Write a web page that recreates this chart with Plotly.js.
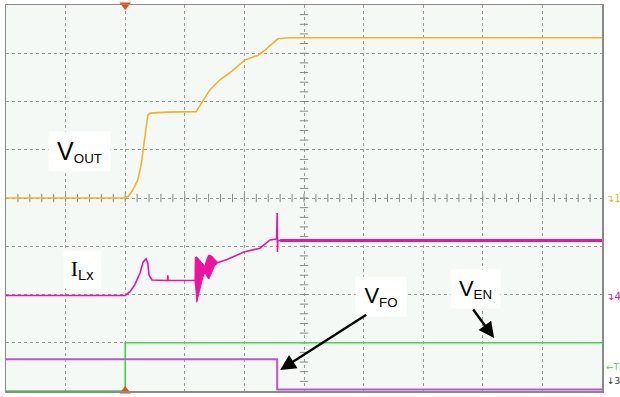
<!DOCTYPE html>
<html>
<head>
<meta charset="utf-8">
<script src="https://cdn.plot.ly/plotly-3.0.1.min.js"></script>
<style>html,body{margin:0;padding:0;background:#fff;}#chart{width:620px;height:397px;}</style>
</head>
<body>
<div id="chart"></div>
<script>
// Time axis in divisions (0..10), vertical axis in divisions (0..8)
const voutX = [0, 2.0, 2.05, 2.12, 2.21, 2.27, 2.30, 2.35, 2.38, 2.42, 2.70, 3.19, 3.26, 3.34, 3.42, 3.59, 3.79, 4.01, 4.23, 4.35, 4.47, 4.56, 4.77, 10];
const voutY = [4.0, 4.0, 4.03, 4.15, 4.37, 4.70, 4.99, 5.46, 5.72, 5.76, 5.78, 5.79, 5.93, 6.09, 6.24, 6.45, 6.63, 6.86, 6.96, 7.07, 7.20, 7.30, 7.32, 7.32];

const ilxX = [0, 2.0, 2.08, 2.16, 2.25, 2.30, 2.35, 2.38, 2.40, 2.45, 2.70, 2.71, 2.715, 2.72, 3.17,
  3.54, 3.70, 3.99, 4.26, 4.43, 4.54, 4.55, 4.555, 4.56, 10];
const ilxY = [1.98, 1.98, 2.06, 2.20, 2.45, 2.67, 2.74, 2.65, 2.40, 2.30, 2.29, 2.29, 2.40, 2.29, 2.29,
  2.66, 2.72, 2.88, 2.96, 3.13, 3.15, 3.69, 2.88, 3.12, 3.12];

// envelope of the ringing burst in I_Lx (upper edge, then lower edge back)
const burstX = [3.17, 3.175, 3.20, 3.25, 3.30, 3.34, 3.36, 3.40, 3.45, 3.50, 3.54,
  3.54, 3.50, 3.45, 3.40, 3.36, 3.34, 3.30, 3.26, 3.22, 3.20, 3.19, 3.17];
const burstY = [2.29, 2.76, 2.78, 2.70, 2.62, 2.58, 2.70, 2.82, 2.80, 2.74, 2.68,
  2.64, 2.60, 2.45, 2.32, 2.40, 2.48, 2.35, 2.15, 1.95, 1.84, 2.05, 2.29];

const vfoX = [0, 4.55, 4.55, 10];
const vfoY = [0.657, 0.657, 0.03, 0.03];

const venX = [0, 2.0, 2.0, 10];
const venY = [0.0, 0.0, 1.0, 1.0];

// graticule minor ticks on the centre lines
const tickPos = [];
for (let i = 1; i < 50; i++) tickPos.push(i * 0.2);
const vTickPos = [];
for (let i = 1; i < 40; i++) vTickPos.push(i * 0.2);

const traces = [
  {x: tickPos, y: tickPos.map(() => 4), mode: 'markers', marker: {symbol: 'line-ns', size: 6, line: {width: 1, color: '#888'}}, hoverinfo: 'skip'},
  {x: vTickPos.map(() => 5), y: vTickPos, mode: 'markers', marker: {symbol: 'line-ew', size: 6, line: {width: 1, color: '#888'}}, hoverinfo: 'skip'},
  {x: venX, y: venY, mode: 'lines', line: {color: '#3ddc3d', width: 1.6}, cliponaxis: false},
  {x: vfoX, y: vfoY, mode: 'lines', line: {color: '#bb55d8', width: 2}, cliponaxis: false},
  {x: ilxX, y: ilxY, mode: 'lines', line: {color: '#f0129e', width: 1.6}},
  {x: burstX, y: burstY, mode: 'lines', fill: 'toself', fillcolor: '#f0129e', line: {color: '#f0129e', width: 1}},
  {x: [4.6, 10], y: [3.12, 3.12], mode: 'lines', line: {color: '#f0129e', width: 3}},
  {x: voutX, y: voutY, mode: 'lines', line: {color: '#f5b324', width: 1.6}},
  {x: [2, 2], y: [8, 0], mode: 'markers', marker: {symbol: ['triangle-down', 'triangle-up'], size: 10, color: '#f24a12'}, cliponaxis: false}
];

const boxFont = {family: 'Liberation Sans, Arial, sans-serif', color: '#000'};
const layout = {
  width: 620, height: 397,
  margin: {l: 6, r: 18, t: 5, b: 6},
  paper_bgcolor: '#ffffff',
  plot_bgcolor: '#f5f9f5',
  showlegend: false,
  xaxis: {range: [0, 10], dtick: 1, showticklabels: false, ticks: '', zeroline: false,
    showgrid: true, gridcolor: '#9a9a9a', griddash: 'dot', gridwidth: 1,
    showline: true, linecolor: '#8a8a8a', linewidth: 1.5, mirror: true},
  yaxis: {range: [0, 8], dtick: 1, showticklabels: false, ticks: '', zeroline: false,
    showgrid: true, gridcolor: '#9a9a9a', griddash: 'dot', gridwidth: 1,
    showline: true, linecolor: '#8a8a8a', linewidth: 1.5, mirror: true},
  annotations: [
    {x: 1.23, y: 4.96, xref: 'x', yref: 'y', showarrow: false, bgcolor: '#ffffff', width: 59, height: 37,
      text: "V<span style='font-size:19px'><sub>OUT</sub></span>", font: Object.assign({size: 25}, boxFont)},
    {x: 1.28, y: 2.52, xref: 'x', yref: 'y', showarrow: false, bgcolor: '#ffffff', width: 35, height: 35,
      text: "<span style='font-family:Liberation Serif'>I</span><span style='font-size:21px'><sub>Lx</sub></span>", font: Object.assign({size: 22}, boxFont)},
    {x: 6.29, y: 1.96, xref: 'x', yref: 'y', showarrow: false, bgcolor: '#ffffff', width: 48, height: 37,
      text: "V<span style='font-size:19px'><sub>FO</sub></span>", font: Object.assign({size: 22}, boxFont)},
    {x: 7.88, y: 2.11, xref: 'x', yref: 'y', showarrow: false, bgcolor: '#ffffff', width: 47, height: 36,
      text: "V<span style='font-size:19px'><sub>EN</sub></span>", font: Object.assign({size: 22}, boxFont)},
    {x: 4.60, y: 0.435, ax: 6.07, ay: 1.60, xref: 'x', yref: 'y', axref: 'x', ayref: 'y', text: '',
      showarrow: true, arrowhead: 2, arrowsize: 1.3, arrowwidth: 2.4, arrowcolor: '#000'},
    {x: 8.19, y: 1.10, ax: 7.82, ay: 1.72, xref: 'x', yref: 'y', axref: 'x', ayref: 'y', text: '',
      showarrow: true, arrowhead: 2, arrowsize: 1.3, arrowwidth: 2.4, arrowcolor: '#000'},
    {x: 1.0, xref: 'paper', xanchor: 'left', xshift: 2, y: 4, yref: 'y', showarrow: false,
      text: '↴1', font: {size: 10, color: '#f5b324', family: 'DejaVu Sans'}},
    {x: 1.0, xref: 'paper', xanchor: 'left', xshift: 2, y: 1.96, yref: 'y', showarrow: false,
      text: '↴4', font: {size: 10, color: '#f0129e', family: 'DejaVu Sans'}},
    {x: 1.0, xref: 'paper', xanchor: 'left', xshift: 2, y: 0.5, yref: 'y', showarrow: false,
      text: '←T', font: {size: 9, color: '#3ddc3d', family: 'DejaVu Sans'}},
    {x: 1.0, xref: 'paper', xanchor: 'left', xshift: 3, y: 0.2, yref: 'y', showarrow: false,
      text: '↓3', font: {size: 9, color: '#333', family: 'DejaVu Sans'}}
  ]
};

Plotly.newPlot('chart', traces, layout, {staticPlot: true, displayModeBar: false});
</script>
</body>
</html>
